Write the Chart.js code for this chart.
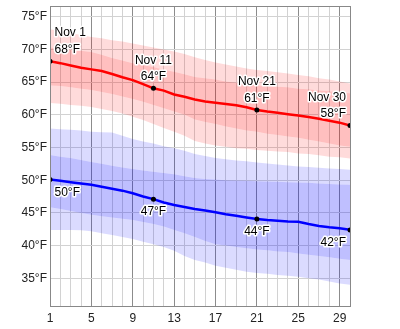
<!DOCTYPE html>
<html lang="en">
  <head>
    <meta charset="UTF-8" />
    <title>November Temperatures</title>
    <script src="https://cdn.jsdelivr.net/npm/chart.js"></script>
    <style>
      body {
        margin: 0;
        background-color: #ffffff;
      }
      canvas {
        display: block;
      }
    </style>
  </head>
  <body>
    <canvas id="tempChart" width="400" height="329"></canvas>

    <script>
      const monthName = "Nov";
      const days = [1, 2, 3, 4, 5, 6, 7, 8, 9, 10, 11, 12, 13, 14, 15,
        16, 17, 18, 19, 20, 21, 22, 23, 24, 25, 26, 27, 28, 29, 30];
      const xTickLabels = [1, 5, 9, 13, 17, 21, 25, 29];
      const yTicks = [35, 40, 45, 50, 55, 60, 65, 70, 75];
      const labelDays = [1, 11, 21, 30];

      // daily highs: average, 25-75% band, 10-90% band
      const highAvg = [68.2, 67.9, 67.55, 67.2, 66.95, 66.7, 66.25, 65.75, 65.3, 64.7,
        64.05, 63.7, 63.1, 62.75, 62.35, 62.05, 61.85, 61.65, 61.45, 61.15,
        60.75, 60.5, 60.3, 60.1, 59.9, 59.65, 59.4, 59.1, 58.8, 58.35];
      const highP90 = [73.1, 72.8, 72.5, 72.2, 71.9, 71.7, 71.4, 71.2, 70.9, 70.6,
        70.3, 70.0, 69.7, 69.3, 68.8, 68.4, 68.0, 67.7, 67.4, 67.1,
        66.85, 66.7, 66.5, 66.3, 66.1, 65.9, 65.6, 65.4, 65.1, 64.8];
      const highP75 = [70.3, 70.1, 69.9, 69.8, 69.6, 69.2, 68.7, 68.3, 67.9, 67.6,
        67.3, 66.9, 66.6, 66.2, 65.8, 65.6, 65.4, 65.1, 64.9, 64.7,
        64.5, 64.4, 64.3, 64.2, 64.0, 63.9, 63.7, 63.6, 63.4, 63.3];
      const highP25 = [64.5, 64.4, 64.2, 64.0, 63.8, 63.5, 63.2, 62.8, 62.4, 62.0,
        61.5, 61.0, 60.5, 60.0, 59.3, 58.9, 58.6, 58.2, 57.9, 57.6,
        57.4, 57.1, 56.9, 56.7, 56.5, 56.2, 55.9, 55.6, 55.3, 55.1];
      const highP10 = [61.8, 61.7, 61.5, 61.4, 61.2, 60.9, 60.6, 60.2, 59.7, 59.2,
        58.6, 58.0, 57.4, 56.8, 56.0, 55.6, 55.3, 55.1, 54.9, 54.8,
        54.6, 54.5, 54.4, 54.3, 54.1, 54.0, 53.8, 53.6, 53.5, 53.3];

      // daily lows
      const lowAvg = [50.1, 49.9, 49.7, 49.5, 49.3, 49.0, 48.7, 48.4, 48.0, 47.5,
        47.1, 46.6, 46.2, 45.9, 45.6, 45.35, 45.1, 44.8, 44.55, 44.3,
        44.05, 43.9, 43.8, 43.7, 43.65, 43.3, 43.0, 42.8, 42.65, 42.4];
      const lowP90 = [57.9, 57.8, 57.7, 57.6, 57.4, 57.35, 57.3, 56.8, 56.3, 55.9,
        55.6, 55.2, 54.9, 54.5, 54.0, 53.7, 53.4, 53.2, 53.0, 52.9,
        52.7, 52.55, 52.4, 52.25, 52.1, 52.0, 51.9, 51.8, 51.7, 51.6];
      const lowP75 = [53.85, 53.6, 53.4, 53.1, 52.8, 52.5, 52.2, 51.95, 51.7, 51.5,
        51.3, 51.1, 50.9, 50.6, 50.35, 50.2, 50.1, 50.0, 49.95, 49.9,
        49.85, 49.8, 49.75, 49.7, 49.65, 49.6, 49.5, 49.4, 49.35, 49.3];
      const lowP25 = [45.85, 45.6, 45.3, 45.0, 44.7, 44.5, 44.3, 44.1, 43.9, 43.6,
        43.3, 42.9, 42.4, 41.9, 41.3, 40.7, 40.2, 40.0, 39.8, 39.6,
        39.4, 39.3, 39.1, 39.0, 38.8, 38.6, 38.4, 38.2, 38.0, 37.8];
      const lowP10 = [42.4, 42.4, 42.4, 42.35, 42.2, 41.9, 41.6, 41.3, 41.0, 40.6,
        40.2, 39.8, 39.2, 38.4, 37.8, 37.4, 36.9, 36.6, 36.3, 36.0,
        35.8, 35.7, 35.5, 35.4, 35.25, 35.0, 34.8, 34.5, 34.2, 34.0];

      const FONT = '"Liberation Sans", Arial, sans-serif';

      function points(values) {
        return days.map((d, i) => ({ x: d, y: values[i] }));
      }

      function avgLine(values, color) {
        return {
          data: points(values),
          borderColor: color,
          borderWidth: 2.5,
          fill: false,
          clip: 0,
          pointRadius: (ctx) => (labelDays.includes(days[ctx.dataIndex]) ? 2.5 : 0),
          pointBackgroundColor: "#000",
          pointBorderWidth: 0,
          pointHoverRadius: 0,
        };
      }

      function bandEdge(values, fillColor) {
        return {
          data: points(values),
          borderColor: "transparent",
          borderWidth: 0,
          backgroundColor: fillColor || "transparent",
          fill: fillColor ? "+1" : false,
          pointRadius: 0,
          pointHoverRadius: 0,
        };
      }

      const redLight = "rgba(255, 0, 0, 0.14)";
      const redDark = "rgba(255, 0, 0, 0.25)";
      const blueLight = "rgba(0, 0, 255, 0.14)";
      const blueDark = "rgba(0, 0, 255, 0.25)";

      // text with a white halo
      function haloText(ctx, text, x, y) {
        ctx.strokeText(text, x, y);
        ctx.fillText(text, x, y);
      }

      const dayLabels = {
        id: "dayLabels",
        afterDatasetsDraw(chart) {
          const { ctx, scales } = chart;
          ctx.save();
          ctx.font = "12px " + FONT;
          ctx.textBaseline = "middle";
          ctx.lineJoin = "round";
          ctx.lineWidth = 3;
          ctx.strokeStyle = "#fff";
          ctx.fillStyle = "#000";
          labelDays.forEach((day, i) => {
            const idx = days.indexOf(day);
            let px = scales.x.getPixelForValue(day);
            let align = "center";
            if (i === 0) { align = "left"; px += 4.5; }
            if (i === labelDays.length - 1) { align = "right"; px -= 4; }
            ctx.textAlign = align;
            const hy = scales.y.getPixelForValue(highAvg[idx]);
            haloText(ctx, monthName + " " + day, px, hy - 28);
            haloText(ctx, Math.round(highAvg[idx]) + "°F", px, hy - 11.5);
            const ly = scales.y.getPixelForValue(lowAvg[idx]);
            haloText(ctx, Math.round(lowAvg[idx]) + "°F", px, ly + 13);
          });
          ctx.restore();
        },
      };

      const frame = {
        id: "frame",
        afterDraw(chart) {
          const { ctx, chartArea: a } = chart;
          ctx.save();
          ctx.strokeStyle = "#888";
          ctx.lineWidth = 1;
          ctx.strokeRect(a.left + 0.5, a.top + 0.5, a.right - a.left, a.bottom - a.top);
          ctx.restore();
        },
      };

      new Chart(document.getElementById("tempChart"), {
        type: "line",
        data: {
          datasets: [
            avgLine(highAvg, "#ff0000"),
            avgLine(lowAvg, "#0000ff"),
            bandEdge(highP90, redLight),
            bandEdge(highP75, redDark),
            bandEdge(highP25, redLight),
            bandEdge(highP10),
            bandEdge(lowP90, blueLight),
            bandEdge(lowP75, blueDark),
            bandEdge(lowP25, blueLight),
            bandEdge(lowP10),
          ],
        },
        options: {
          responsive: false,
          animation: false,
          devicePixelRatio: 1,
          layout: { padding: { top: 6, right: 50, left: 0, bottom: 0 } },
          elements: { line: { tension: 0 } },
          plugins: {
            legend: { display: false },
            tooltip: { enabled: false },
          },
          scales: {
            x: {
              type: "linear",
              min: 1,
              max: 30,
              afterBuildTicks: (axis) => {
                axis.ticks = days.map((v) => ({ value: v }));
              },
              afterFit: (axis) => {
                axis.height = 23;
                axis.paddingLeft = 0;
                axis.paddingRight = 0;
              },
              ticks: {
                autoSkip: false,
                maxRotation: 0,
                padding: 5,
                color: "#222",
                font: { family: FONT, size: 12 },
                callback: (v) => (xTickLabels.includes(v) ? String(v) : ""),
              },
              grid: {
                drawTicks: false,
                color: (ctx) => (xTickLabels.includes(ctx.tick.value) ? "#8c8c8c" : "#d2d2d2"),
              },
              border: { display: false },
            },
            y: {
              min: 30.76,
              max: 76.64,
              afterBuildTicks: (axis) => {
                axis.ticks = yTicks.map((v) => ({ value: v }));
              },
              afterFit: (axis) => {
                axis.width = 50;
                axis.paddingTop = 0;
                axis.paddingBottom = 0;
              },
              ticks: {
                padding: 3,
                color: "#222",
                font: { family: FONT, size: 12 },
                callback: (v) => v + "°F",
              },
              grid: {
                drawTicks: false,
                color: "#d2d2d2",
              },
              border: { display: false },
            },
          },
        },
        plugins: [dayLabels, frame],
      });
    </script>
  </body>
</html>
